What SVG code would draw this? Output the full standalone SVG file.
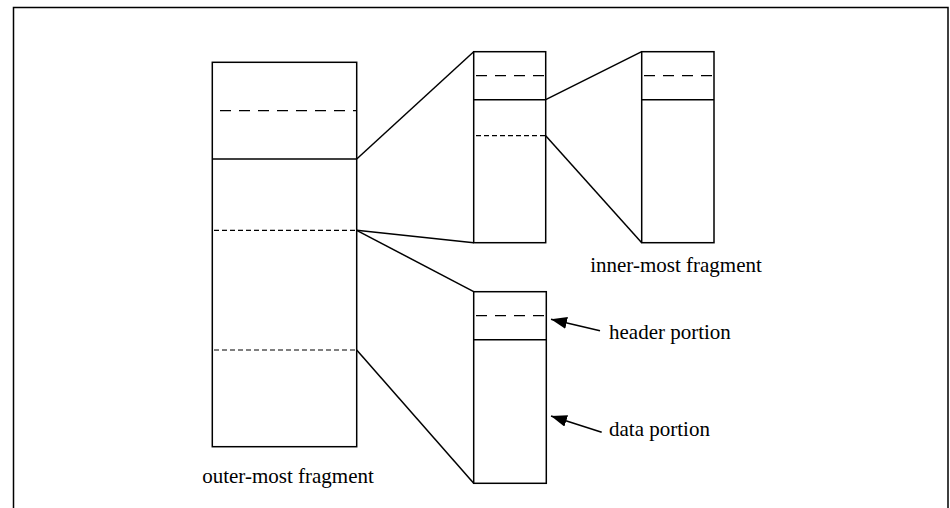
<svg xmlns="http://www.w3.org/2000/svg" width="950" height="508" viewBox="0 0 950 508">
<defs>
<style>
.ln{stroke:#000;stroke-width:1.5;fill:none}
.box{stroke:#000;stroke-width:1.5;fill:#fff}
.dash{stroke:#000;stroke-width:1.2;stroke-dasharray:11 8;fill:none}
.dot{stroke:#000;stroke-width:1.2;stroke-dasharray:5 3;fill:none}
.lbl{font-family:"Liberation Serif","Times New Roman",serif;font-size:21px;fill:#000}
</style>
<marker id="ah" markerWidth="16" markerHeight="12" refX="16" refY="6" orient="auto" markerUnits="userSpaceOnUse">
<path d="M0,0 L16,6 L0,12 Z" fill="#000"/>
</marker>
</defs>
<rect width="950" height="508" fill="#fff"/>
<path class="ln" d="M13.5,508 V7.5 H948 V508"/>
<g id="connectors">
<line class="ln" x1="356.7" y1="159" x2="473.7" y2="51.7"/>
<line class="ln" x1="356.7" y1="230.3" x2="473.7" y2="242.7"/>
<line class="ln" x1="356.7" y1="230.3" x2="473.7" y2="291.7"/>
<line class="ln" x1="356.7" y1="350" x2="473.7" y2="483.3"/>
<line class="ln" x1="545.7" y1="99.7" x2="641.7" y2="51.7"/>
<line class="ln" x1="545.7" y1="135.7" x2="641.7" y2="242.7"/>
<line class="ln" x1="600" y1="330.7" x2="551" y2="319.3" marker-end="url(#ah)"/>
<line class="ln" x1="601.7" y1="432.3" x2="551" y2="416" marker-end="url(#ah)"/>
</g>
<g id="outer">
<rect class="box" x="212.3" y="62.3" width="144.4" height="384.4"/>
<line class="dash" x1="220" y1="110.7" x2="356" y2="110.7"/>
<line class="ln" x1="212.3" y1="159" x2="356.7" y2="159"/>
<line class="dot" x1="214" y1="230.3" x2="356" y2="230.3"/>
<line class="dot" x1="214" y1="350" x2="356" y2="350"/>
<text class="lbl" x="288" y="483.3" text-anchor="middle">outer-most fragment</text>
</g>
<g id="middle">
<rect class="box" x="473.7" y="51.7" width="72" height="191"/>
<line class="dash" x1="476" y1="75.7" x2="545" y2="75.7"/>
<line class="ln" x1="473.7" y1="99.7" x2="545.7" y2="99.7"/>
<line class="dot" x1="476" y1="135.7" x2="545" y2="135.7"/>
</g>
<g id="inner">
<rect class="box" x="641.7" y="51.7" width="72.3" height="191"/>
<line class="dash" x1="644" y1="75.7" x2="713" y2="75.7"/>
<line class="ln" x1="641.7" y1="99.7" x2="714" y2="99.7"/>
<text class="lbl" x="676" y="271.7" text-anchor="middle">inner-most fragment</text>
</g>
<g id="lower">
<rect class="box" x="473.7" y="291.7" width="72.6" height="191.6"/>
<line class="dash" x1="476" y1="315.7" x2="546" y2="315.7"/>
<line class="ln" x1="473.7" y1="339.7" x2="546.3" y2="339.7"/>
</g>
<g id="labels">
<text class="lbl" x="609" y="339.3">header portion</text>
<text class="lbl" x="609" y="435.7">data portion</text>
</g>
</svg>
